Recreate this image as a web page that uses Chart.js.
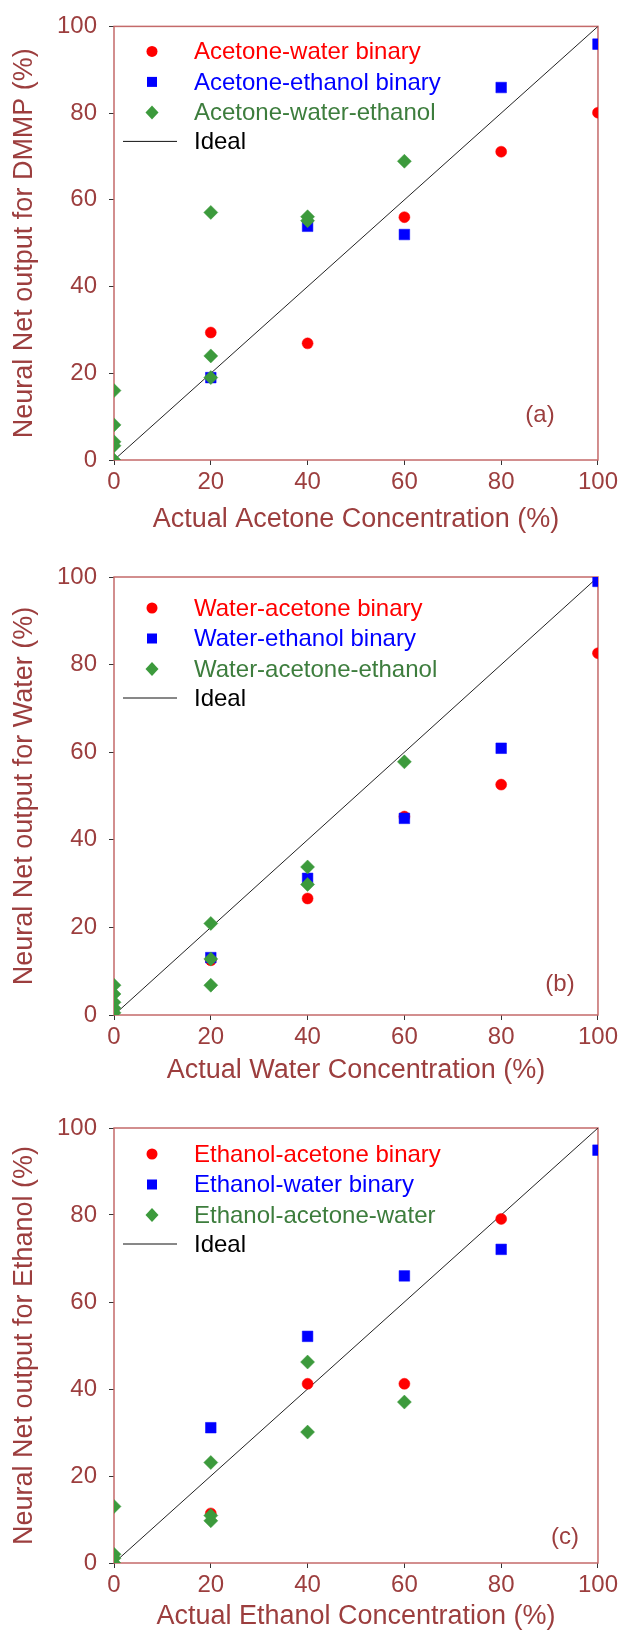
<!DOCTYPE html>
<html>
<head>
<meta charset="utf-8">
<script src="https://cdn.jsdelivr.net/npm/chart.js@4.4.1/dist/chart.umd.min.js"></script>
<style>
  html, body { margin: 0; padding: 0; background: #fff; overflow: hidden; }
  body { width: 621px; height: 1630px; position: relative; }
  canvas { position: absolute; left: 0; }
</style>
</head>
<body>
<canvas id="chartA"></canvas>
<canvas id="chartB"></canvas>
<canvas id="chartC"></canvas>
<script>
'use strict';

// Axis ticks shared by all three panels
const xTicks = [0, 20, 40, 60, 80, 100];
const yTicks = [0, 20, 40, 60, 80, 100];
const idealX = [0, 100];
const idealY = [0, 100];

// (a) DMMP / acetone output
const legendA = ['Acetone-water binary', 'Acetone-ethanol binary', 'Acetone-water-ethanol', 'Ideal'];
const acWatX = [20, 40, 60, 80, 100];
const acWatY = [29.4, 26.9, 56, 71.1, 80.1];
const acEthX = [20, 40, 60, 80, 100];
const acEthY = [19, 53.9, 52, 85.9, 95.9];
const acWatEthX = [0, 0, 0, 0, 0, 20, 20, 20, 40, 40, 60];
const acWatEthY = [16, 8.1, 4.2, 3.3, 0, 57.1, 24, 19, 56.1, 55.2, 68.9];

// (b) water output
const legendB = ['Water-acetone binary', 'Water-ethanol binary', 'Water-acetone-ethanol', 'Ideal'];
const waAcX = [20, 40, 60, 80, 100];
const waAcY = [12.5, 26.6, 45.3, 52.6, 82.6];
const waEthX = [20, 40, 60, 80, 100];
const waEthY = [13.1, 31.2, 44.9, 60.9, 99];
const waAcEthX = [0, 0, 0, 0, 0, 20, 20, 20, 40, 40, 60];
const waAcEthY = [6.8, 4.8, 2.9, 1.6, 0.5, 20.9, 12.8, 6.8, 33.8, 29.8, 57.8];

// (c) ethanol output
const legendC = ['Ethanol-acetone binary', 'Ethanol-water binary', 'Ethanol-acetone-water', 'Ideal'];
const ethAcX = [20, 40, 60, 80];
const ethAcY = [11.4, 41.2, 41.2, 79.1];
const ethWatX = [20, 40, 60, 80, 100];
const ethWatY = [31.1, 52.1, 66, 72.1, 94.9];
const ethAcWatX = [0, 0, 0, 0, 20, 20, 20, 40, 40, 60];
const ethAcWatY = [13, 2, 1.1, 0, 23.1, 10.9, 9.7, 46.2, 30.1, 37];

const axisTitlesX = ['Actual Acetone Concentration (%)', 'Actual Water Concentration (%)', 'Actual Ethanol Concentration (%)'];
const axisTitlesY = ['Neural Net output for DMMP (%)', 'Neural Net output for Water (%)', 'Neural Net output for Ethanol (%)'];
const panelTags = ['(a)', '(b)', '(c)'];

const FONT = 'Arial, "Liberation Sans", sans-serif';
const BROWN = '#9c3e3e';
const FRAME = '#c46a6a';
const RED = '#ff0000';
const BLUE = '#0000ff';
const GREEN = '#3c9a3c';
const GREEN_TEXT = '#3d7d3d';

function toPoints(xs, ys) {
  return xs.map((x, i) => ({ x: x, y: ys[i] }));
}

// box around the plotting area
const framePlugin = {
  id: 'frame',
  beforeDatasetsDraw(chart) {
    const a = chart.chartArea;
    const ctx = chart.ctx;
    ctx.save();
    ctx.strokeStyle = FRAME;
    ctx.lineWidth = 1.5;
    ctx.strokeRect(a.left, a.top, a.right - a.left, a.bottom - a.top);
    ctx.restore();
  }
};

// legend drawn inside the top-left corner, plus the panel tag
const cornerLegend = {
  id: 'cornerLegend',
  afterDatasetsDraw(chart, args, opts) {
    const a = chart.chartArea;
    const ctx = chart.ctx;
    const mx = a.left + 38;
    const tx = a.left + 80;
    ctx.save();
    ctx.font = '24px ' + FONT;
    ctx.textBaseline = 'middle';
    ctx.textAlign = 'left';
    const styles = [
      { shape: 'circle', color: RED, text: RED },
      { shape: 'square', color: BLUE, text: BLUE },
      { shape: 'diamond', color: GREEN, text: GREEN_TEXT },
      { shape: 'line', color: '#111', text: '#000' }
    ];
    opts.labels.forEach((label, i) => {
      const s = styles[i];
      const y = a.top + opts.top + (i < 3 ? i * 30.5 : 90);
      ctx.fillStyle = s.color;
      ctx.strokeStyle = s.color;
      ctx.beginPath();
      if (s.shape === 'circle') {
        ctx.arc(mx, y, 5.5, 0, Math.PI * 2);
        ctx.fill();
      } else if (s.shape === 'square') {
        ctx.fillRect(mx - 5, y - 5, 10, 10);
      } else if (s.shape === 'diamond') {
        ctx.moveTo(mx, y - 7);
        ctx.lineTo(mx + 6.5, y);
        ctx.lineTo(mx, y + 7);
        ctx.lineTo(mx - 6.5, y);
        ctx.closePath();
        ctx.fill();
      } else {
        ctx.lineWidth = 1;
        ctx.moveTo(a.left + 9, y);
        ctx.lineTo(a.left + 63, y);
        ctx.stroke();
      }
      ctx.fillStyle = s.text;
      ctx.fillText(label, tx, y + 1);
    });
    ctx.fillStyle = BROWN;
    ctx.textAlign = 'center';
    ctx.fillText(opts.tag, opts.tagX, a.bottom - opts.tagUp);
    ctx.restore();
  }
};

// canvas placement and plot box for each panel
const panels = [
  { id: 'chartA', top: 0, plotTop: 21, plotBottom: 460, titleDrop: 60, legendTop: 25, tagX: 540, tagUp: 45,
    legend: legendA, series: [[acWatX, acWatY], [acEthX, acEthY], [acWatEthX, acWatEthY]] },
  { id: 'chartB', top: 540, plotTop: 577, plotBottom: 1015, titleDrop: 56, legendTop: 31, tagX: 560, tagUp: 31,
    legend: legendB, series: [[waAcX, waAcY], [waEthX, waEthY], [waAcEthX, waAcEthY]] },
  { id: 'chartC', top: 1088, plotTop: 1128, plotBottom: 1563, titleDrop: 54, legendTop: 26, tagX: 565, tagUp: 26,
    legend: legendC, series: [[ethAcX, ethAcY], [ethWatX, ethWatY], [ethAcWatX, ethAcWatY]] }
];

panels.forEach((p, k) => {
  const canvas = document.getElementById(p.id);
  const axisHeight = p.titleDrop + 16;
  const height = p.plotBottom + axisHeight - p.top;
  canvas.width = 621;
  canvas.height = height;
  canvas.style.top = p.top + 'px';
  canvas.style.width = '621px';
  canvas.style.height = height + 'px';

  new Chart(canvas, {
    type: 'scatter',
    data: {
      datasets: [
        {
          label: p.legend[0],
          data: toPoints(p.series[0][0], p.series[0][1]),
          pointStyle: 'circle',
          pointRadius: 5.5,
          backgroundColor: RED,
          borderColor: RED,
          borderWidth: 0.5,
          order: 2
        },
        {
          label: p.legend[1],
          data: toPoints(p.series[1][0], p.series[1][1]),
          pointStyle: 'rect',
          pointRadius: 7.5,
          backgroundColor: BLUE,
          borderColor: BLUE,
          borderWidth: 0.5,
          order: 1
        },
        {
          label: p.legend[2],
          data: toPoints(p.series[2][0], p.series[2][1]),
          pointStyle: 'rectRot',
          pointRadius: 7,
          backgroundColor: GREEN,
          borderColor: GREEN,
          borderWidth: 0.5,
          order: 0
        },
        {
          type: 'line',
          label: p.legend[3],
          data: toPoints(idealX, idealY),
          borderColor: '#222',
          borderWidth: 1,
          pointRadius: 0,
          order: 3
        }
      ]
    },
    options: {
      responsive: false,
      animation: false,
      devicePixelRatio: 1,
      layout: { padding: { top: p.plotTop - p.top, right: 22, left: 0, bottom: 0 } },
      plugins: {
        legend: { display: false },
        tooltip: { enabled: false },
        cornerLegend: { labels: p.legend, top: p.legendTop, tag: panelTags[k], tagX: p.tagX, tagUp: p.tagUp }
      },
      scales: {
        x: {
          type: 'linear',
          min: 0,
          max: 100,
          afterBuildTicks: (scale) => { scale.ticks = xTicks.map(v => ({ value: v })); },
          afterFit: (scale) => { scale.height = axisHeight; },
          border: { display: false },
          grid: { drawOnChartArea: false, color: '#333', tickLength: 5 },
          ticks: { color: BROWN, font: { family: FONT, size: 24 }, padding: 3, maxRotation: 0 },
          title: { display: true, text: axisTitlesX[k], color: BROWN, font: { family: FONT, size: 27 }, padding: { top: 0, bottom: 0 } }
        },
        y: {
          type: 'linear',
          min: 0,
          max: 100,
          afterBuildTicks: (scale) => { scale.ticks = yTicks.map(v => ({ value: v })); },
          afterFit: (scale) => { scale.width = 114; },
          border: { display: false },
          grid: { drawOnChartArea: false, color: '#333', tickLength: 5 },
          ticks: { color: BROWN, font: { family: FONT, size: 24 }, padding: 12 },
          title: { display: true, text: axisTitlesY[k], color: BROWN, font: { family: FONT, size: 27 }, padding: { top: 8, bottom: 0 } }
        }
      }
    },
    plugins: [framePlugin, cornerLegend]
  });
});
</script>
</body>
</html>
